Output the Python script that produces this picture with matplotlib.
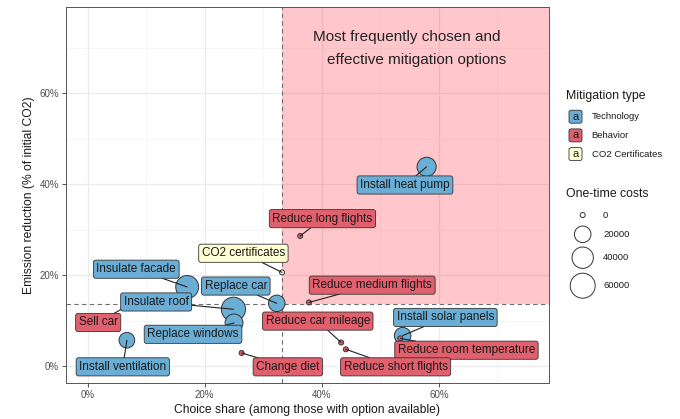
import numpy as np
import matplotlib
matplotlib.use("Agg")
import matplotlib.pyplot as plt
from matplotlib.patches import Rectangle, FancyBboxPatch
from matplotlib.ticker import FuncFormatter, MultipleLocator

plt.rcParams['font.family'] = ['Liberation Sans', 'DejaVu Sans']

# data
options = ["Install heat pump", "Reduce long flights", "CO2 certificates",
           "Insulate facade", "Replace car", "Insulate roof", "Sell car",
           "Replace windows", "Install ventilation", "Change diet",
           "Reduce medium flights", "Reduce car mileage", "Install solar panels",
           "Reduce room temperature", "Reduce short flights"]
mtype = ["Technology", "Behavior", "CO2 Certificates",
         "Technology", "Technology", "Technology", "Behavior",
         "Technology", "Technology", "Behavior",
         "Behavior", "Behavior", "Technology",
         "Behavior", "Behavior"]
share = [57.9, 36.3, 33.2, 17.0, 32.3, 24.9, 8.5, 25.0, 6.7, 26.3,
         37.8, 43.3, 53.8, 53.4, 44.1]
reduction = [43.8, 28.6, 20.6, 17.4, 13.8, 12.5, 14.5, 9.5, 5.7, 2.9,
             14.0, 5.2, 6.7, 6.1, 3.7]
cost = [30000, 0, 0, 48000, 20000, 55000, 0, 25000, 17000, 0,
        0, 0, 20000, 0, 0]

type_levels = ["Technology", "Behavior", "CO2 Certificates"]
type_colors = {"Technology": "#6aaed6", "Behavior": "#e0606e",
               "CO2 Certificates": "#ffffd6"}
size_breaks = [0, 20000, 40000, 60000]
share_cut = 33.2
reduction_cut = 13.6

# label placement (layout, in data units)
label_pos = {
    "Install heat pump": (54.2, 39.8),
    "Reduce long flights": (40.1, 32.4),
    "CO2 certificates": (26.6, 24.8),
    "Insulate facade": (8.3, 21.3),
    "Replace car": (25.3, 17.6),
    "Insulate roof": (11.7, 14.1),
    "Sell car": (1.8, 9.6),
    "Replace windows": (18.0, 7.0),
    "Install ventilation": (6.0, -0.15),
    "Change diet": (34.2, -0.15),
    "Reduce medium flights": (48.6, 17.8),
    "Reduce car mileage": (39.3, 9.9),
    "Install solar panels": (61.1, 10.7),
    "Reduce room temperature": (64.7, 3.5),
    "Reduce short flights": (52.6, -0.15),
}
LABEL_FS = 8.5
BOX = 'round,pad=0.26,rounding_size=0.2'


def size_px(c):
    return 5 + 20 * np.sqrt(np.asarray(c, dtype=float) / 60000)


def size_s(c):
    return (size_px(c) * 0.72) ** 2


W, H = 680, 419
fig = plt.figure(figsize=(W / 100, H / 100), dpi=100)
ax = fig.add_axes([66 / W, 1 - 383 / H, (549 - 66) / W, (383 - 7) / H])

ax.set_xlim(-3.7, 78.8)
ax.set_ylim(-3.7, 78.9)
ax.xaxis.set_major_locator(MultipleLocator(20))
ax.yaxis.set_major_locator(MultipleLocator(20))
ax.xaxis.set_minor_locator(MultipleLocator(10))
ax.yaxis.set_minor_locator(MultipleLocator(10))
pct = FuncFormatter(lambda v, p: f"{v:.0f}%")
ax.xaxis.set_major_formatter(pct)
ax.yaxis.set_major_formatter(pct)
ax.grid(which='major', color='#ebebeb', lw=0.9, zorder=0)
ax.grid(which='minor', color='#f3f3f3', lw=0.5, zorder=0)
ax.set_axisbelow(True)
ax.tick_params(which='minor', length=0)
ax.tick_params(which='major', length=3, width=0.6, color='#333333',
               labelsize=7, labelcolor='#4d4d4d', pad=2)
for sp in ax.spines.values():
    sp.set_color('#555555')
    sp.set_linewidth(0.7)

# highlighted quadrant
ax.add_patch(Rectangle((share_cut, reduction_cut), 200, 200,
                       facecolor=(1, 0, 0.08), alpha=0.22, lw=0, zorder=1))
ax.axvline(share_cut, color='#6e6e6e', ls=(0, (4, 3)), lw=0.8, zorder=1.5)
ax.axhline(reduction_cut, color='#6e6e6e', ls=(0, (4, 3)), lw=0.8, zorder=1.5)

ax.text(0.706, 0.921, "Most frequently chosen and", transform=ax.transAxes,
        ha='center', va='center', fontsize=11, color='#222222')
ax.text(0.725, 0.859, "effective mitigation options", transform=ax.transAxes,
        ha='center', va='center', fontsize=11, color='#222222')

# points
cols = [type_colors[t] for t in mtype]
ax.scatter(share, reduction, s=size_s(cost), c=cols, edgecolors='#333333',
           linewidths=0.7, zorder=3)

# segments (drawn under all labels)
for name, x, y in zip(options, share, reduction):
    lx, ly = label_pos[name]
    ax.annotate(name, xy=(x, y), xytext=(lx, ly), textcoords='data',
                ha='center', va='center', fontsize=LABEL_FS, color='none',
                bbox=dict(boxstyle=BOX, fc='none', ec='none'),
                arrowprops=dict(arrowstyle='-', color='#222222', lw=0.8,
                                shrinkA=0, shrinkB=0),
                zorder=4)

# labels
for name, t in zip(options, mtype):
    lx, ly = label_pos[name]
    ax.text(lx, ly, name, ha='center', va='center', fontsize=LABEL_FS,
            color='#1a1a1a', zorder=5,
            bbox=dict(boxstyle=BOX, fc=type_colors[t], ec='#333333', lw=0.6))

ax.set_xlabel("Choice share (among those with option available)",
              fontsize=8.7, color='#1a1a1a', labelpad=3)
ax.set_ylabel("Emission reduction (% of initial CO2)",
              fontsize=8.7, color='#1a1a1a', labelpad=3)


def fx(px):
    return px / W


def fy(py):
    return 1 - py / H


# legend: mitigation type
fig.text(fx(566), fy(96), "Mitigation type", fontsize=8.8, va='center',
         ha='left', color='#1a1a1a')
for i, t in enumerate(type_levels):
    cy = 116.7 + i * 18.7
    fig.add_artist(FancyBboxPatch((fx(569), fy(cy + 6.5)), 13 / W, 13 / H,
                                  boxstyle='round,pad=0,rounding_size=0.004',
                                  transform=fig.transFigure,
                                  fc=type_colors[t], ec='#333333', lw=0.6))
    fig.text(fx(575.5), fy(cy), "a", fontsize=8, ha='center', va='center',
             color='#1a1a1a')
    fig.text(fx(591.5), fy(cy), t, fontsize=6.8, ha='left', va='center',
             color='#1a1a1a')

# legend: one-time costs
fig.text(fx(566), fy(194), "One-time costs", fontsize=8.8, va='center',
         ha='left', color='#1a1a1a')
key_y = [215, 234.3, 257.7, 285.7]
ax.scatter([fx(582.7)] * len(size_breaks), [fy(v) for v in key_y],
           s=size_s(size_breaks), facecolors='white', edgecolors='#333333',
           linewidths=0.7, transform=fig.transFigure, clip_on=False, zorder=6)
for b, yy in zip(size_breaks, key_y):
    fig.text(fx(603), fy(yy), str(b), fontsize=6.8, ha='left', va='center',
             color='#1a1a1a')

fig.savefig("out.png", dpi=100, facecolor='white')
